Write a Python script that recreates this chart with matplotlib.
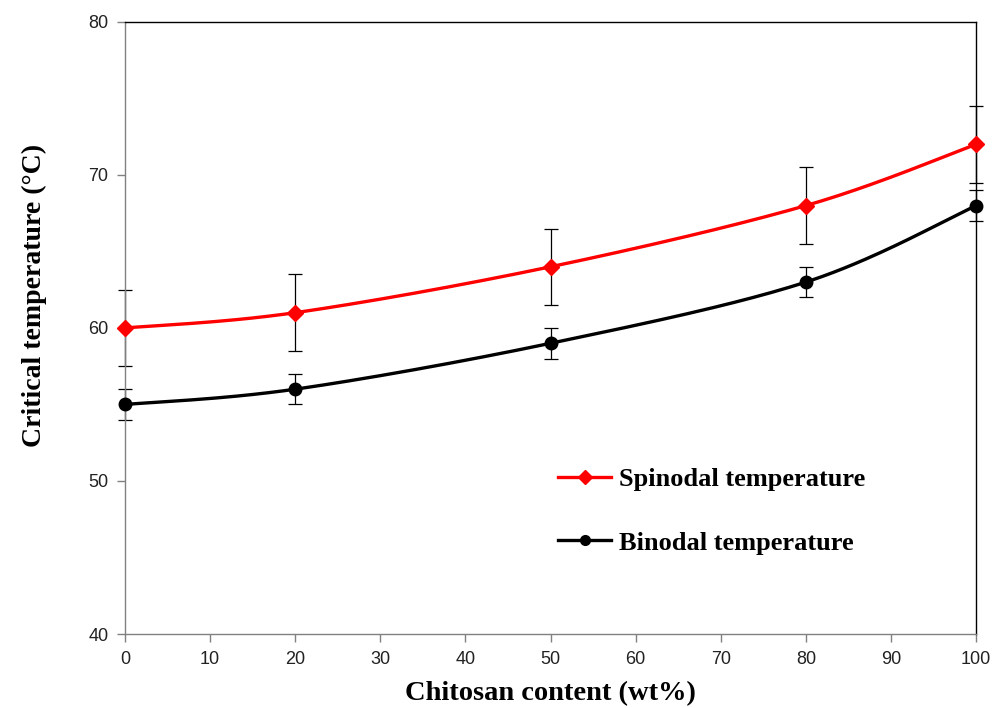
import numpy as np
import matplotlib
matplotlib.use("Agg")
import matplotlib.pyplot as plt
from matplotlib.lines import Line2D

chitosan = [0, 20, 50, 80, 100]
spinodal = [60, 61, 64, 68, 72]
spinodal_err = [2.5, 2.5, 2.5, 2.5, 2.5]
binodal = [55, 56, 59, 63, 68]
binodal_err = [1, 1, 1, 1, 1]

x_ticks = [0, 10, 20, 30, 40, 50, 60, 70, 80, 90, 100]
y_ticks = [40, 50, 60, 70, 80]


def smooth(xs, ys, n=40):
    P = np.column_stack([xs, ys]).astype(float)
    P = np.vstack([P[0], P, P[-1]])
    out = []
    for i in range(1, len(P) - 2):
        p0, p1, p2, p3 = P[i - 1], P[i], P[i + 1], P[i + 2]
        c1 = p1 + (p2 - p0) / 6.0
        c2 = p2 - (p3 - p1) / 6.0
        t = np.linspace(0, 1, n)[:, None]
        b = ((1 - t) ** 3) * p1 + 3 * ((1 - t) ** 2) * t * c1 + 3 * (1 - t) * t ** 2 * c2 + t ** 3 * p2
        out.append(b if i == 1 else b[1:])
    B = np.vstack(out)
    return B[:, 0], B[:, 1]


fig = plt.figure(figsize=(9.92, 7.08), dpi=100)
ax = fig.add_axes([0.126, 0.1045, 0.858, 0.8645])

serif = "Liberation Serif"
sans = "Liberation Sans"

for ys, err, col, mk, ms in [(spinodal, spinodal_err, "#ff0000", "D", 8),
                             (binodal, binodal_err, "#000000", "o", 9)]:
    sx, sy = smooth(chitosan, ys)
    ax.plot(sx, sy, color=col, lw=2.4, zorder=3, solid_capstyle="round", clip_on=False)
    eb = ax.errorbar(chitosan, ys, yerr=err, fmt="none", ecolor="black", elinewidth=0.9,
                     capsize=4.7, capthick=0.9, zorder=2)
    for art in eb.lines[1]:
        art.set_clip_on(False)
    for art in eb.lines[2]:
        art.set_clip_on(False)
    ax.plot(chitosan, ys, linestyle="none", marker=mk, color=col, ms=ms, zorder=4, clip_on=False)

ax.set_xlim(0, 100)
ax.set_ylim(40, 80)
ax.set_xticks(x_ticks)
ax.set_yticks(y_ticks)
ax.tick_params(direction="out", length=6, width=1, color="#808080")
ax.tick_params(axis="x", labelsize=13, pad=6)
ax.tick_params(axis="y", labelsize=13, pad=6)
for lab in ax.get_yticklabels() + ax.get_xticklabels():
    lab.set_fontfamily(sans)
    lab.set_color("#222222")

for s in ["left", "bottom"]:
    ax.spines[s].set_color("#808080")
    ax.spines[s].set_linewidth(1.0)
for s in ["top", "right"]:
    ax.spines[s].set_color("black")
    ax.spines[s].set_linewidth(1.0)

ax.set_xlabel("Chitosan content (wt%)", fontfamily=serif, fontweight="bold", fontsize=20.5, labelpad=10)
ax.set_ylabel("Critical temperature (\u00b0C)", fontfamily=serif, fontweight="bold", fontsize=20)
ax.yaxis.set_label_coords(-0.092, 0.553)

handles = [Line2D([], [], color="#ff0000", lw=2.4, marker="D", ms=7),
           Line2D([], [], color="black", lw=2.4, marker="o", ms=7)]
leg = ax.legend(handles, ["Spinodal temperature", "Binodal temperature"],
                loc="upper left", bbox_to_anchor=(0.481, 0.31), frameon=False,
                prop={"family": serif, "weight": "bold", "size": 19},
                handlelength=2.0, handletextpad=0.3, labelspacing=1.5)

fig.savefig("out.png", dpi=100)
